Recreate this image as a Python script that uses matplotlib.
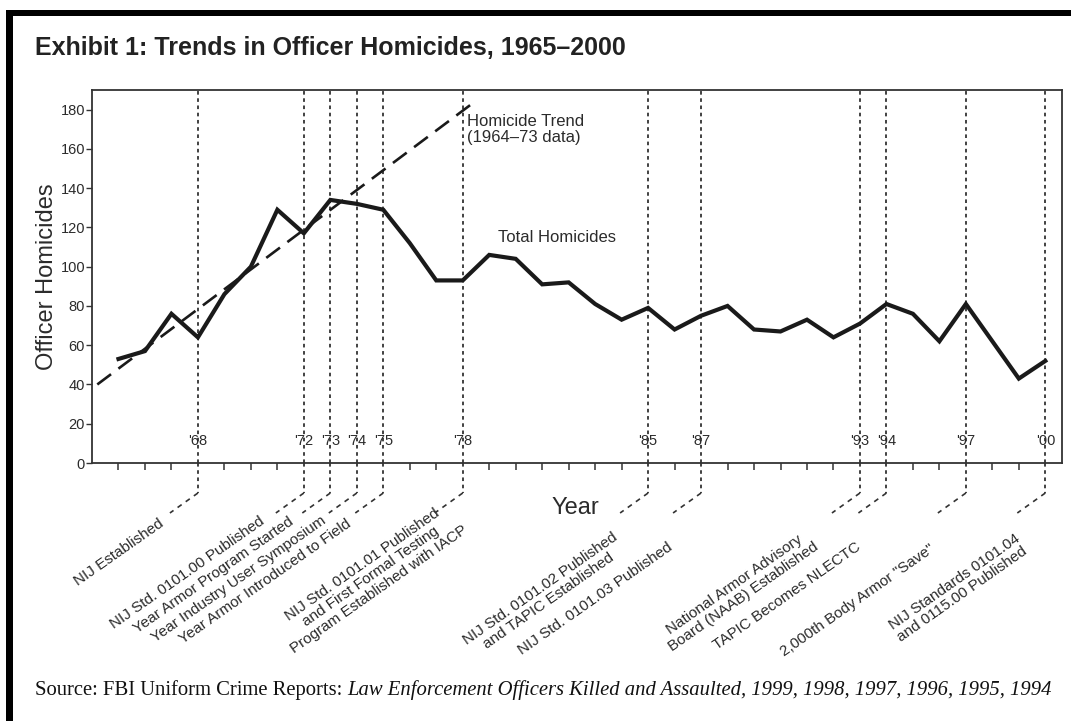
import matplotlib
matplotlib.use("Agg")
import matplotlib.pyplot as plt
from matplotlib.lines import Line2D
from matplotlib.patches import Rectangle
from matplotlib.transforms import IdentityTransform

# officer homicides per year
years = list(range(1965, 2001))
homicides = [53, 57, 76, 64, 86, 100, 129, 117, 134, 132,
             129, 112, 93, 93, 106, 104, 91, 92, 81, 73,
             79, 68, 75, 80, 68, 67, 73, 64, 71, 81,
             76, 62, 81, 62, 43, 52]

# 1964-73 trend line end points
trend_years = [1964.2, 1978.35]
trend_values = [40, 183]

event_years = [1968, 1972, 1973, 1974, 1975, 1978, 1985, 1987, 1993, 1994, 1997, 2000]
event_ticks = ["'68", "'72", "'73", "'74", "'75", "'78", "'85", "'87", "'93", "'94", "'97", "'00"]
event_labels = [
    "NIJ Established",
    "NIJ Std. 0101.00 Published",
    "Year Armor Program Started",
    "Year Industry User Symposium",
    "Year Armor Introduced to Field",
    "NIJ Std. 0101.01 Published\nand First Formal Testing\nProgram Established with IACP",
    "NIJ Std. 0101.02 Published\nand TAPIC Established",
    "NIJ Std. 0101.03 Published",
    "National Armor Advisory\nBoard (NAAB) Established",
    "TAPIC Becomes NLECTC",
    "2,000th Body Armor \"Save\"",
    "NIJ Standards 0101.04\nand 0115.00 Published",
]
y_ticks = list(range(0, 181, 20))

# where each rotated label sits, pixels from the tick foot (x right, y up)
label_offsets = [(-79, -89), (-117, -110), (-117, -112), (-118, -116), (-118, -119),
                 (-92, -114), (-104, -132), (-106, -136), (-121, -128), (-99, -133),
                 (-108, -137), (-87, -125)]

W, H = 1071, 721
ink = "#1a1a1a"
txt = "#2b2b2b"
sans = ["Liberation Sans", "DejaVu Sans"]
plt.rcParams["font.family"] = sans

fig = plt.figure(figsize=(W / 100, H / 100), dpi=100)
fig.patch.set_facecolor("white")

# black frame bits from the scan
fig.add_artist(Rectangle((6 / W, 1 - 16 / H), 1 - 6 / W, 6 / H, transform=fig.transFigure,
                         color="black", lw=0))
fig.add_artist(Rectangle((6 / W, 0), 7 / W, 1 - 10 / H, transform=fig.transFigure,
                         color="black", lw=0))

ax = fig.add_axes([92 / W, 1 - 463 / H, 970 / W, 373 / H])
ax.set_xlim(1964.0, 2000.63)
ax.set_ylim(0, 190)

for s in ax.spines.values():
    s.set_linewidth(1.3)
    s.set_color("#333333")

ax.set_yticks(y_ticks)
ax.tick_params(axis="y", direction="out", length=4, width=1, pad=1,
               labelsize=10.5, labelcolor=txt, color="#333333")
minor_years = [y for y in years if y not in event_years]
ax.set_xticks(minor_years)
ax.set_xticklabels([])
ax.tick_params(axis="x", direction="out", length=5, width=1.1, color="#333333")

# event markers
for yr, tk in zip(event_years, event_ticks):
    ax.plot([yr, yr], [0, 190], color="#333333", lw=1.3, ls=(0, (2, 2)), zorder=1)
    ax.text(yr, 11, tk, ha="center", va="center", fontsize=10.5, color=txt)

ax.plot(trend_years, trend_values, color=ink, lw=1.9, ls=(0, (6.5, 3.5)), zorder=2)
ax.plot(years, homicides, color=ink, lw=3.0, solid_joinstyle="miter", zorder=3)

ax.text(1978.17, 178, "Homicide Trend\n(1964\u201373 data)", ha="left", va="top",
        fontsize=12, color=txt, linespacing=1.1)
ax.text(1981.57, 115, "Total Homicides", ha="center", va="center", fontsize=12, color=txt)

ax.set_ylabel("Officer Homicides", fontsize=17, color=txt, labelpad=2)
ax.set_xlabel("Year", fontsize=17, color=txt)
ax.xaxis.set_label_coords((575 - 92) / 970, -(497 - 463) / 373)

# connectors below the axis and the rotated notes
for yr, lab, (dx, dy) in zip(event_years, event_labels, label_offsets):
    bx, by = ax.transData.transform((yr, 0))
    fig.add_artist(Line2D([bx, bx], [by, by - 30], transform=IdentityTransform(),
                          color="#333333", lw=1.3, ls=(0, (2, 2))))
    fig.add_artist(Line2D([bx, bx - 28], [by - 30, by - 50], transform=IdentityTransform(),
                          color="#333333", lw=1.2, ls=(0, (3, 3))))
    ax.annotate(lab, xy=(yr, 0), xytext=(dx, dy), textcoords="offset pixels",
                ha="center", va="center", rotation=35, rotation_mode="anchor",
                multialignment="center", fontsize=11, linespacing=1.05,
                color=txt, annotation_clip=False)

fig.text(35 / W, 1 - 48 / H, "Exhibit 1: Trends in Officer Homicides, 1965\u20132000",
         ha="left", va="center", fontsize=18, fontweight="bold", color="#222222")

# source line: plain part then italic part
src1 = fig.text(35 / W, 1 - 690 / H, "Source: FBI Uniform Crime Reports: ",
                ha="left", va="center", fontsize=14.85, family="Liberation Serif", color="#111111")
r = fig.canvas.get_renderer()
bb = src1.get_window_extent(r)
fig.text(bb.x1 / W, 1 - 690 / H,
         "Law Enforcement Officers Killed and Assaulted, 1999, 1998, 1997, 1996, 1995, 1994",
         ha="left", va="center", fontsize=14.85, family="Liberation Serif", style="italic",
         color="#111111")

fig.savefig("out.png", dpi=100)
